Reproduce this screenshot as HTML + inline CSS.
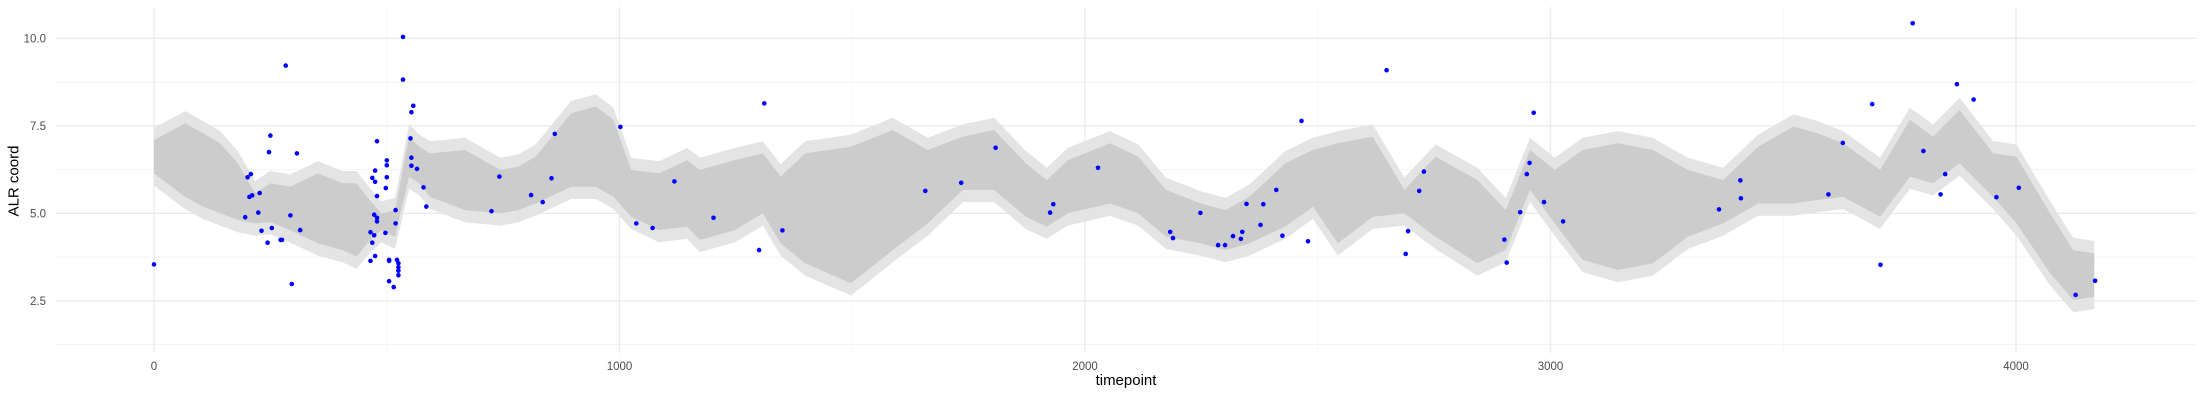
<!DOCTYPE html>
<html><head><meta charset="utf-8"><style>
html,body{margin:0;padding:0;background:#fff;}
svg{display:block;font-family:"Liberation Sans",sans-serif;}
</style></head><body>
<svg id="chart" width="2200" height="400" viewBox="0 0 2200 400" xmlns="http://www.w3.org/2000/svg">
<g id="grid"></g>
<g id="ribbon"></g>
<g id="points"></g>
<g id="axes"></g>
<text x="14" y="181" transform="rotate(-90 14 181)" text-anchor="middle" dominant-baseline="central" font-size="15" fill="#000">ALR coord</text>
<text x="1126" y="385" text-anchor="middle" font-size="15" fill="#000">timepoint</text>
</svg>
<script>
const bandT = [0,67,105,142,180,217,250,292,352,405,435,458,488,518,548,570,593,668,744,782,820,896,949,987,1025,1085,1145,1173,1248,1308,1346,1399,1497,1587,1662,1738,1805,1873,1918,1963,2054,2114,2174,2249,2302,2353,2430,2490,2543,2618,2686,2753,2843,2904,2956,3009,3069,3145,3220,3295,3371,3446,3522,3572,3629,3708,3772,3822,3879,3951,4001,4073,4123,4168];
const bandLo = [6.14,5.47,5.19,5.0,4.81,4.71,4.75,4.52,4.14,3.95,3.76,4.14,4.52,4.33,6.05,5.86,5.47,5.09,5.0,5.09,5.28,5.76,5.76,5.47,4.9,4.52,4.62,4.24,4.52,5.0,4.14,3.57,3.0,3.95,4.71,5.67,5.67,4.9,4.62,5.0,5.28,5.0,4.33,4.14,3.95,4.14,4.62,5.19,4.14,4.9,5.0,4.33,3.57,3.95,5.67,4.71,3.67,3.38,3.57,4.33,4.71,5.28,5.28,5.38,5.47,4.9,6.05,5.86,6.43,5.47,4.71,3.29,2.52,2.62];
const bandHi = [7.09,7.57,7.29,7.0,6.43,5.57,5.86,5.76,6.14,5.86,5.86,5.47,4.99,5.09,7.19,6.9,6.71,6.81,6.24,6.33,6.62,7.86,8.05,7.67,6.24,6.14,6.52,6.24,6.52,6.71,6.05,6.71,6.9,7.38,6.81,7.19,7.38,6.43,5.95,6.52,7.0,6.62,5.67,5.28,5.09,5.47,6.43,6.81,7.0,7.19,5.67,6.62,5.95,5.09,6.81,6.24,6.81,7.0,6.81,6.24,5.95,6.9,7.48,7.29,7.0,6.24,7.67,7.19,7.95,6.71,6.62,5.0,3.95,3.86];
const outerPad = 0.35;
const ptT = [0,196,201,208,205,211,227,224,231,244,247,250,253,272,275,283,293,296,307,314,465,465,469,469,473,473,475,475,475,479,479,479,479,497,498,500,500,500,505,505,505,515,519,519,522,525,525,525,525,535,535,551,553,557,553,553,565,579,585,725,742,810,835,854,861,1002,1036,1071,1118,1202,1300,1311,1350,1657,1734,1808,1925,1932,2028,2183,2189,2248,2286,2301,2318,2335,2338,2347,2377,2383,2411,2424,2465,2479,2648,2689,2694,2718,2728,2901,2906,2935,2949,2955,2964,2986,3027,3362,3408,3409,3597,3628,3691,3709,3778,3801,3838,3848,3873,3909,3958,4006,4128,4170];
const ptV = [3.54,4.89,6.03,6.12,5.47,5.51,5.58,5.02,4.5,4.16,6.75,7.22,4.58,4.24,4.24,9.22,4.94,2.98,6.71,4.52,4.46,3.64,6.01,4.16,4.96,4.37,5.9,6.22,3.78,7.06,5.49,4.87,4.77,4.44,5.72,6.03,6.37,6.51,3.67,3.06,3.64,2.89,5.09,4.71,3.67,3.57,3.46,3.36,3.23,10.04,8.82,7.14,7.89,8.07,6.59,6.36,6.27,5.74,5.19,5.06,6.05,5.52,5.32,6.0,7.27,7.47,4.71,4.58,5.91,4.87,3.95,8.14,4.51,5.64,5.87,6.87,5.02,5.26,6.30,4.47,4.29,5.01,4.09,4.09,4.35,4.27,4.47,5.27,4.67,5.26,5.67,4.36,7.64,4.2,9.09,3.84,4.49,5.64,6.19,4.25,3.59,5.03,6.12,6.44,7.87,5.32,4.77,5.11,5.94,5.43,5.54,7.01,8.12,3.53,10.43,6.78,5.54,6.12,8.69,8.25,5.46,5.73,2.67,3.07];
const xTicks = [0,1000,2000,3000,4000];
const xMinor = [500,1500,2500,3500];
const yTicks = [2.5,5.0,7.5,10.0];
const yTickLabels = ["2.5","5.0","7.5","10.0"];
const yMinor = [1.25,3.75,6.25,8.75];

const PL=56, PR=2196, PT=7, PB=353;
const X = t => 154 + t*0.4655;
const Y = v => 38.3 + (10 - v)*35.0;
const NS="http://www.w3.org/2000/svg";
function mk(tag, attrs, parent){const e=document.createElementNS(NS,tag);for(const k in attrs)e.setAttribute(k,attrs[k]);parent.appendChild(e);return e;}
const grid=document.getElementById('grid');
yMinor.forEach(v=>{const l=mk('line',{x1:PL,x2:PR,y1:Y(v),y2:Y(v),stroke:'#f3f3f3','stroke-width':0.8},grid);

});
xMinor.forEach(t=>{const l=mk('line',{x1:X(t),x2:X(t),y1:PT,y2:PB,stroke:'#f3f3f3','stroke-width':0.8},grid);

});
yTicks.forEach(v=>{const l=mk('line',{x1:PL,x2:PR,y1:Y(v),y2:Y(v),stroke:'#ebebeb','stroke-width':1.3},grid);

});
xTicks.forEach(t=>{const l=mk('line',{x1:X(t),x2:X(t),y1:PT,y2:PB,stroke:'#ebebeb','stroke-width':1.3},grid);

});

const rib=document.getElementById('ribbon');
function poly(lo,hi,pad){let up=bandT.map((t,i)=>X(t).toFixed(1)+','+Y(hi[i]+pad).toFixed(1));
let dn=bandT.map((t,i)=>X(t).toFixed(1)+','+Y(lo[i]-pad).toFixed(1)).reverse();return up.concat(dn).join(' ');}
const outer=mk('polygon',{points:poly(bandLo,bandHi,outerPad),fill:'#e4e4e4'},rib);


const inner=mk('polygon',{points:poly(bandLo,bandHi,0),fill:'#cccccc'},rib);



const pts=document.getElementById('points');
ptT.forEach((t,i)=>{const c=mk('circle',{cx:X(t).toFixed(1),cy:Y(ptV[i]).toFixed(1),r:2.3,fill:'#0000ff'},pts);

});

const ax=document.getElementById('axes');
xTicks.forEach(t=>{const e=mk('text',{x:X(t),y:370,'text-anchor':'middle','font-size':11.5,fill:'#4d4d4d'},ax);e.textContent=String(t);

});
yTicks.forEach((v,i)=>{const e=mk('text',{x:46,y:Y(v)+4,'text-anchor':'end','font-size':11.5,fill:'#4d4d4d'},ax);e.textContent=yTickLabels[i];

});
</script>
</body></html>
